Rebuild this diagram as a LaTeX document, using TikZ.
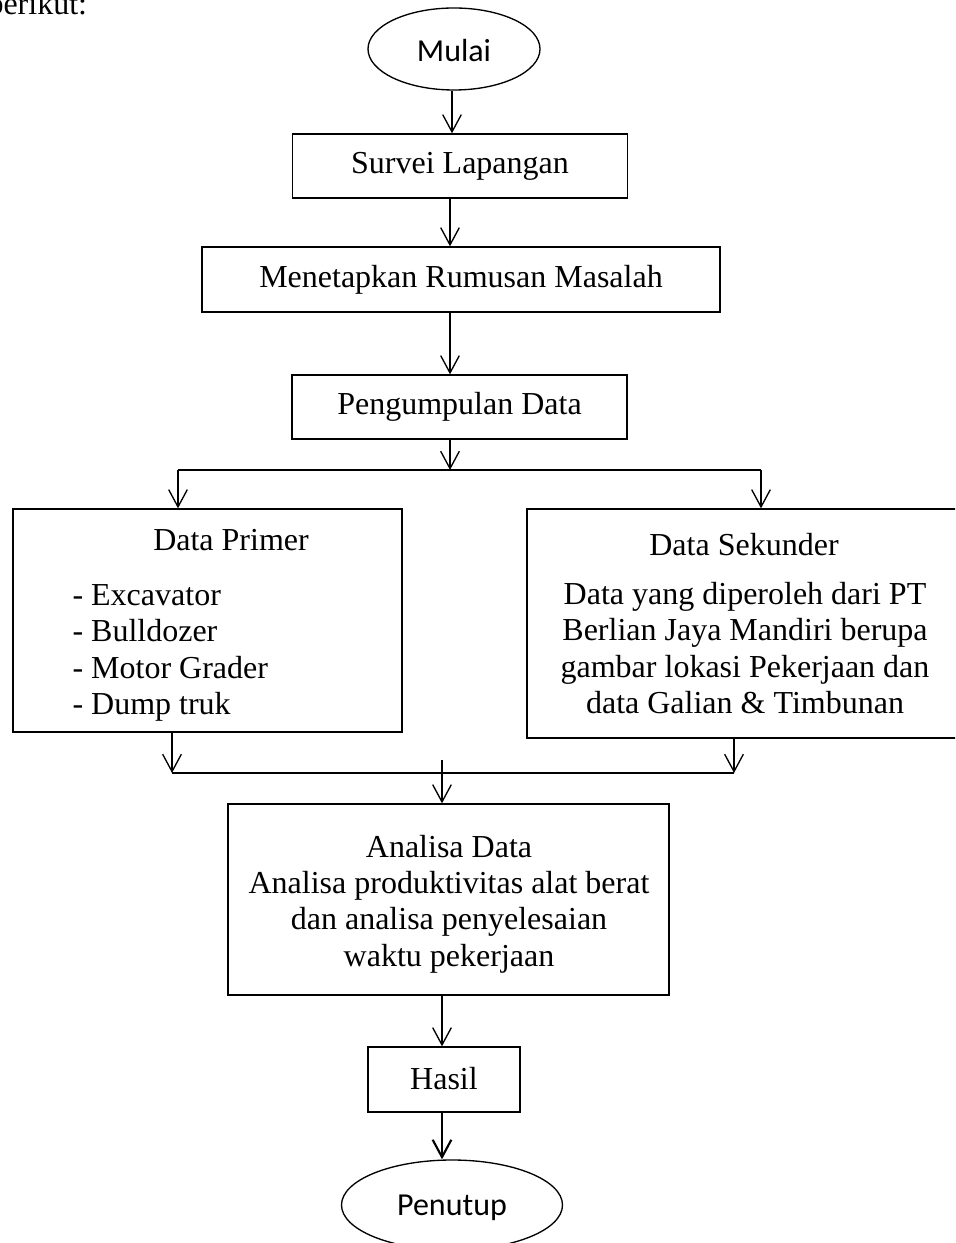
\documentclass[tikz,border=0pt]{standalone}
\usepackage{fontspec}
\setmainfont{Liberation Serif}
\newfontfamily\calfont{Carlito}
\usetikzlibrary{arrows.meta,shapes.geometric}
\def\u{0.375pt}
\begin{document}
\begin{tikzpicture}[x=0.375pt,y=-0.375pt,
  box/.style={draw, line width=0.5pt, rectangle, inner sep=0pt},
  term/.style={draw, line width=0.5pt, ellipse, inner sep=0pt},
  txt/.style={inner sep=0pt, font=\fontsize{12}{13.8}\selectfont},
  ctxt/.style={inner sep=0pt, font=\calfont\fontsize{12}{14}\selectfont},
  flow/.style={line width=0.5pt, -{Straight Barb[length=6.5pt,width=7pt]}},
  thickflow/.style={line width=0.8pt, -{Straight Barb[length=6.5pt,width=7pt]}},
  ln/.style={line width=0.5pt}]
\clip (0,0) rectangle (955,1243);
\fill[white] (0,0) rectangle (955,1243);

% leading text
\node[txt, anchor=base west] (berikut) at (-13,15) {berikut:};

% boxes
\node[term, minimum width=172*\u, minimum height=82*\u] (mulai) at (454,49) {};
\node[ctxt, anchor=base] (mulait) at (454,62) {Mulai};

\node[box, minimum width=335*\u, minimum height=64*\u] (survei) at (460,166) {};
\node[txt, anchor=base] (surveit) at (460,174) {Survei Lapangan};

\node[box, minimum width=518*\u, minimum height=65*\u] (rumus) at (461,279.5) {};
\node[txt, anchor=base] (rumust) at (461,288) {Menetapkan Rumusan Masalah};

\node[box, minimum width=335*\u, minimum height=64*\u] (kumpul) at (459.5,407) {};
\node[txt, anchor=base] (kumpult) at (459.5,415) {Pengumpulan Data};

\node[box, minimum width=389*\u, minimum height=223*\u] (primer) at (207.5,620.5) {};
\node[txt, anchor=base] (primert) at (231,550) {Data Primer};
\node[txt, anchor=base west] (p1) at (72,605) {- Excavator};
\node[txt, anchor=base west] (p2) at (72,641.5) {- Bulldozer};
\node[txt, anchor=base west] (p3) at (72,678) {- Motor Grader};
\node[txt, anchor=base west] (p4) at (72,714) {- Dump truk};

\node[box, minimum width=443*\u, minimum height=229*\u] (sekunder) at (748.5,623.5) {};
\node[txt, anchor=base] (sekt) at (744,555) {Data Sekunder};
\node[txt, anchor=base] (s1) at (745,604) {Data yang diperoleh dari PT};
\node[txt, anchor=base] (s2) at (745,640.5) {Berlian Jaya Mandiri berupa};
\node[txt, anchor=base] (s3) at (745,677) {gambar lokasi Pekerjaan dan};
\node[txt, anchor=base] (s4) at (745,713.5) {data Galian \& Timbunan};

\node[box, minimum width=441*\u, minimum height=191*\u] (analisa) at (448.5,899.5) {};
\node[txt, anchor=base] (a1) at (449,857) {Analisa Data};
\node[txt, anchor=base] (a2) at (449,893) {Analisa produktivitas alat berat};
\node[txt, anchor=base] (a3) at (449,929) {dan analisa penyelesaian};
\node[txt, anchor=base] (a4) at (449,966) {waktu pekerjaan};

\node[box, minimum width=152*\u, minimum height=65*\u] (hasil) at (444,1079.5) {};
\node[txt, anchor=base] (hasilt) at (444,1089) {Hasil};

\node[term, minimum width=221*\u, minimum height=90*\u] (penutup) at (452,1205) {};
\node[ctxt, anchor=base] (penutupt) at (452,1215) {Penutup};

% connectors
\coordinate (x1) at (452,0);
\coordinate (x2) at (450,0);
\coordinate (x3) at (442,0);
\draw[flow] (x1 |- mulai.south) -- (x1 |- survei.north);
\draw[flow] (x2 |- survei.south) -- (x2 |- rumus.north);
\draw[flow] (x2 |- rumus.south) -- (x2 |- kumpul.north);

\coordinate (bm) at (450,470);
\coordinate (bl) at (178,470);
\coordinate (br) at (761,470);
\draw[flow] (bm |- kumpul.south) -- (bm);
\draw[ln] (bl) -- (br);
\draw[flow] (bl) -- (bl |- primer.north);
\draw[flow] (br) -- (br |- sekunder.north);

\coordinate (ll) at (172,773);
\coordinate (lr) at (734,773);
\coordinate (lm) at (442,760);
\draw[flow] (ll |- primer.south) -- (ll);
\draw[flow] (lr |- sekunder.south) -- (lr);
\draw[ln] (ll) -- (lr);
\draw[flow] (lm) -- (lm |- analisa.north);

\draw[flow] (x3 |- analisa.south) -- (x3 |- hasil.north);
\draw[thickflow] (x3 |- hasil.south) -- (x3 |- penutup.north);
\end{tikzpicture}
\end{document}
